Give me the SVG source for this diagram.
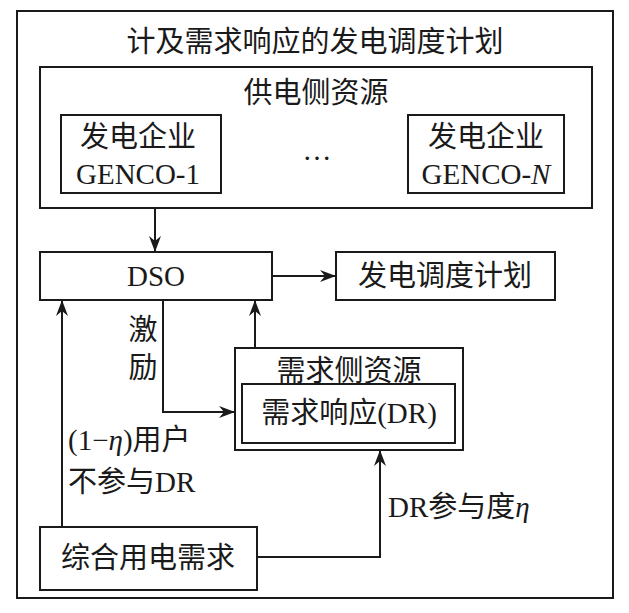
<svg xmlns="http://www.w3.org/2000/svg" width="629" height="613" viewBox="0 0 629 613">
<defs>
<marker id="ah" markerWidth="16" markerHeight="12" refX="15" refY="6" orient="auto" markerUnits="userSpaceOnUse">
<path d="M0,0 L16,6 L0,12 L5,6 Z" fill="#1a1a1a"/>
</marker>
<style>
.b{fill:#fff;stroke:#1a1a1a;stroke-width:2}
.t{font-family:"Liberation Serif","Noto Sans CJK SC",serif;font-size:29px;fill:#1a1a1a;text-anchor:middle}
.s{text-anchor:start}
.c{fill:none;stroke:#1a1a1a;stroke-width:2}
</style>
</defs>
<rect width="629" height="613" fill="#fff"/>
<g id="frame">
<rect class="b" x="17" y="11" width="596" height="587"/>
<text class="t" x="315" y="52">计及需求响应的发电调度计划</text>
</g>
<g id="supply">
<rect class="b" x="40" y="67" width="552" height="141"/>
<text class="t" x="316" y="103">供电侧资源</text>
</g>
<g id="genco1">
<rect class="b" x="61" y="115" width="160" height="78"/>
<text class="t" x="138" y="147">发电企业</text>
<text class="t" x="138" y="184">GENCO-1</text>
</g>
<g id="dots">
<text class="t" x="317" y="160">…</text>
</g>
<g id="gencoN">
<rect class="b" x="408" y="115" width="156" height="78"/>
<text class="t" x="486" y="147">发电企业</text>
<text class="t" x="486" y="184">GENCO-<tspan font-style="italic">N</tspan></text>
</g>
<g id="dso">
<rect class="b" x="40" y="252" width="232" height="48"/>
<text class="t" x="156" y="286">DSO</text>
</g>
<g id="schedule">
<rect class="b" x="336" y="252" width="219" height="48"/>
<text class="t" x="445" y="286">发电调度计划</text>
</g>
<g id="demandside">
<rect class="b" x="235" y="348" width="228" height="102"/>
<text class="t" x="349" y="381">需求侧资源</text>
<rect class="b" x="242" y="384" width="213" height="59"/>
<text class="t" x="349" y="423">需求响应(DR)</text>
</g>
<g id="total">
<rect class="b" x="40" y="527" width="217" height="63"/>
<text class="t" x="148" y="568">综合用电需求</text>
</g>
<g id="connectors">
<line class="c" x1="155" y1="208" x2="155" y2="251" marker-end="url(#ah)"/>
<line class="c" x1="272" y1="276" x2="335" y2="276" marker-end="url(#ah)"/>
<line class="c" x1="62" y1="527" x2="62" y2="301" marker-end="url(#ah)"/>
<line class="c" x1="255" y1="348" x2="255" y2="301" marker-end="url(#ah)"/>
<polyline class="c" points="163,300 163,412 234,412" marker-end="url(#ah)"/>
<polyline class="c" points="257,557 380,557 380,451" marker-end="url(#ah)"/>
</g>
<g id="labels">
<text class="t" x="143" y="340">激</text>
<text class="t" x="143" y="378">励</text>
<text class="t s" x="68" y="450">(1−<tspan font-style="italic">η</tspan>)用户</text>
<text class="t s" x="68" y="492">不参与DR</text>
<text class="t s" x="388" y="517">DR参与度<tspan font-style="italic">η</tspan></text>
</g>
</svg>
